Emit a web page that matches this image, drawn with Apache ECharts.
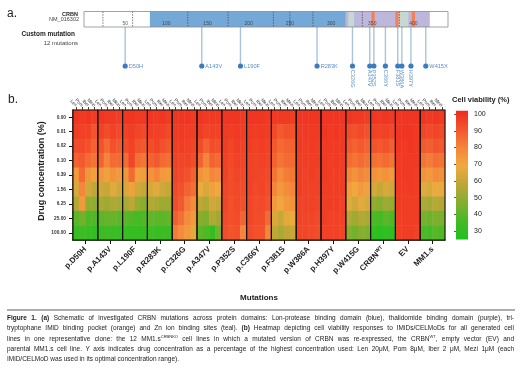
<!DOCTYPE html>
<html>
<head>
<meta charset="utf-8">
<script src="https://cdn.jsdelivr.net/npm/echarts@6/dist/echarts.min.js"></script>
<style>
html, body { margin: 0; padding: 0; background: #fff; }
#chart { width: 520px; height: 374px; }
</style>
</head>
<body>
<div id="chart"></div>
<script>
// ---- panel a: CRBN protein (residues) ----
var proteinLength = 442;
var domainStart = [0, 80, 318, 420];
var domainEnd = [80, 318, 420, 442];
var domainColor = ['#ffffff', '#74a8d6', '#bcb7db', '#ffffff'];
var zincSites = [[321, 328], [382, 394]];
var trpPocket = [[349, 353], [378, 382], [398, 402]];
var exonBreaks = [23, 59, 126, 175, 230, 250, 278, 338, 383];
var residueTicks = [50, 100, 150, 200, 250, 300, 350, 400];

var mutNames = ['D50H', 'A143V', 'L190F', 'R283K', 'C326G', 'A347V', 'P352S', 'C366Y', 'F381S', 'W386A', 'H397Y', 'W415X'];
var mutPos = [50, 143, 190, 283, 326, 347, 352, 366, 381, 386, 397, 415];
var mutVertical = [false, false, false, false, true, true, true, true, true, true, true, false];

// ---- panel b: heatmap ----
var concLabels = ['0.00', '0.01', '0.02', '0.10', '0.39', '1.56', '6.25', '25.00', '100.00'];
var drugs = ['Len', 'Pom', 'Iber', 'Mezi'];
var cellLines = ['p.D50H', 'p.A143V', 'p.L190F', 'p.R283K', 'p.C326G', 'p.A347V', 'p.P352S', 'p.C366Y',
  'p.F381S', 'p.W386A', 'p.H397Y', 'p.W415G', 'CRBN^WT', 'EV', 'MM1.s'];

// rows = concentration (top to bottom), columns = Len, Pom, Iber, Mezi
var D50H = [[99, 98, 99, 97], [97, 96, 96, 91], [93, 94, 92, 88], [88, 90, 86, 84], [74, 86, 75, 72], [64, 80, 62, 58], [56, 74, 50, 49], [40, 44, 38, 38], [32, 34, 32, 30]];
var A143V = [[99, 98, 98, 97], [96, 93, 96, 94], [92, 86, 92, 90], [88, 80, 86, 86], [75, 72, 76, 74], [62, 60, 66, 62], [54, 52, 55, 53], [40, 42, 42, 40], [33, 34, 33, 32]];
var L190F = [[99, 99, 98, 98], [96, 97, 95, 94], [93, 96, 91, 90], [86, 95, 85, 83], [75, 86, 72, 73], [64, 72, 62, 60], [53, 58, 50, 48], [40, 38, 36, 38], [33, 31, 32, 32]];
var R283K = [[99, 98, 99, 97], [97, 96, 96, 94], [93, 95, 92, 90], [88, 90, 86, 85], [76, 80, 74, 73], [63, 66, 62, 60], [55, 54, 52, 52], [41, 40, 40, 42], [34, 33, 34, 33]];
var C326G = [[99, 99, 99, 98], [98, 98, 97, 97], [97, 97, 96, 95], [96, 95, 95, 93], [95, 94, 92, 88], [94, 92, 88, 85], [93, 90, 82, 78], [89, 85, 78, 74], [82, 78, 74, 66]];
var A347V = [[99, 98, 98, 98], [97, 95, 96, 96], [93, 88, 93, 92], [88, 80, 88, 86], [76, 73, 80, 78], [68, 64, 72, 70], [58, 55, 62, 60], [48, 46, 56, 52], [40, 38, 30, 44]];
var P352S = [[99, 99, 99, 98], [98, 97, 98, 97], [97, 95, 97, 96], [96, 94, 96, 95], [96, 93, 95, 94], [95, 93, 94, 93], [95, 92, 94, 92], [94, 92, 93, 88], [93, 91, 92, 80]];
var C366Y = [[99, 99, 99, 98], [98, 97, 98, 97], [97, 96, 97, 96], [96, 95, 96, 95], [96, 95, 95, 94], [96, 94, 95, 93], [95, 93, 94, 92], [95, 93, 93, 86], [94, 92, 92, 80]];
var F381S = [[98, 98, 98, 97], [94, 90, 92, 92], [90, 86, 88, 88], [88, 84, 86, 86], [84, 78, 82, 83], [80, 74, 78, 80], [74, 70, 74, 76], [64, 60, 66, 68], [58, 54, 58, 60]];
var W386A = [[99, 99, 99, 99], [98, 98, 98, 98], [98, 97, 98, 97], [97, 97, 97, 97], [97, 96, 97, 96], [97, 96, 96, 96], [96, 96, 96, 95], [96, 95, 95, 94], [95, 95, 94, 93]];
var H397Y = [[99, 99, 99, 99], [99, 98, 99, 98], [98, 98, 98, 98], [98, 97, 98, 97], [98, 97, 97, 97], [97, 97, 97, 97], [97, 97, 97, 96], [97, 96, 96, 96], [96, 96, 96, 95]];
var W415G = [[99, 98, 98, 97], [93, 92, 94, 92], [90, 88, 90, 88], [86, 84, 86, 84], [79, 76, 80, 78], [73, 70, 74, 72], [66, 62, 66, 64], [56, 52, 56, 54], [48, 44, 48, 46]];
var CRBN_WT = [[99, 98, 99, 98], [96, 95, 96, 94], [91, 90, 92, 89], [85, 84, 86, 84], [76, 74, 76, 74], [63, 60, 64, 62], [50, 48, 52, 50], [38, 36, 40, 38], [31, 29, 31, 30]];
var EV = [[99, 99, 99, 99], [99, 99, 99, 98], [99, 98, 99, 98], [98, 98, 98, 98], [98, 98, 98, 97], [98, 97, 98, 97], [98, 97, 97, 97], [97, 97, 97, 97], [97, 97, 97, 96]];
var MM1s = [[99, 98, 99, 98], [95, 94, 95, 94], [90, 89, 91, 90], [84, 82, 85, 84], [76, 74, 78, 76], [66, 64, 68, 68], [55, 53, 57, 56], [45, 43, 46, 45], [38, 36, 39, 38]];

var viability = [D50H, A143V, L190F, R283K, C326G, A347V, P352S, C366Y, F381S, W386A, H397Y, W415G, CRBN_WT, EV, MM1s];
var legendTicks = [30, 40, 50, 60, 70, 80, 90, 100];
var heatColors = ['#1ec21e', '#45ba26', '#84ae2e', '#bea637', '#efaa3e', '#f4853a', '#f2552d', '#ef2a1e'];

var captionLines = [
  'Figure 1. (a) Schematic of investigated CRBN mutations across protein domains: Lon-protease binding domain (blue), thalidomide binding domain (purple), tri-',
  'tryptophane IMiD binding pocket (orange) and Zn ion binding sites (teal). (b) Heatmap depicting cell viability responses to IMiDs/CELMoDs for all generated cell',
  'lines in one representative clone: the 12 MM1.s^CRBNKO cell lines in which a mutated version of CRBN was re-expressed, the CRBN^WT^, empty vector (EV) and',
  'parental MM1.s cell line. Y axis indicates drug concentration as a percentage of the highest concentration used: Len 20\u03bcM, Pom 8\u03bcM, Iber 2 \u03bcM, Mezi 1\u03bcM (each',
  'IMiD/CELMoD was used in its optimal concentration range).'
];
var boldWords = ['Figure', '1.', '(a)', '(b)'];

var FONT = '"Liberation Sans", Arial, sans-serif';

// heatmap cells
var columnKeys = [];
var heatData = [];
viability.forEach(function (rows, g) {
  drugs.forEach(function (d, k) {
    columnKeys.push(cellLines[g] + '|' + d);
  });
  rows.forEach(function (vals, r) {
    vals.forEach(function (v, k) {
      heatData.push([g * 4 + k, r, v]);
    });
  });
});

// caption, justified like the figure
var ctx = document.createElement('canvas').getContext('2d');
function textW(s, size, bold) {
  ctx.font = (bold ? 'bold ' : '') + size + 'px ' + FONT;
  return ctx.measureText(s).width;
}
var capLeft = 7, capRight = 514, capTop = 318.6, capStep = 10.1, capSize = 6.5;
var captionEls = [];
captionLines.forEach(function (line, li) {
  var words = line.split(' ');
  var parts = words.map(function (w) {
    var bold = boldWords.indexOf(w) >= 0;
    var sp = w.split('^');
    var wb = textW(sp[0], capSize, bold);
    var ws = sp[1] ? textW(sp[1], capSize * 0.62, bold) : 0;
    var wr = sp[2] ? textW(sp[2], capSize, bold) : 0;
    return { base: sp[0], sup: sp[1], rest: sp[2], bold: bold, wb: wb, ws: ws, w: wb + ws + wr };
  });
  var total = parts.reduce(function (a, p) { return a + p.w; }, 0);
  var last = li === captionLines.length - 1;
  var gap = last ? textW(' ', capSize) : (capRight - capLeft - total) / (words.length - 1);
  var x = capLeft;
  var y = capTop + li * capStep;
  parts.forEach(function (p) {
    var st = { fontSize: capSize, fontWeight: p.bold ? 'bold' : 'normal', fontFamily: FONT, fill: '#222', verticalAlign: 'middle' };
    captionEls.push({ type: 'text', x: x, y: y, silent: true, style: Object.assign({ text: p.base }, st) });
    if (p.sup) {
      captionEls.push({ type: 'text', x: x + p.wb, y: y - 2.3, silent: true,
        style: Object.assign({}, st, { text: p.sup, fontSize: capSize * 0.62 }) });
    }
    if (p.rest) {
      captionEls.push({ type: 'text', x: x + p.wb + p.ws, y: y, silent: true, style: Object.assign({ text: p.rest }, st) });
    }
    x += p.w + gap;
  });
});

function label(text, x, y, size, opts) {
  return { type: 'text', x: x, y: y, silent: true,
    style: Object.assign({ text: text, fontSize: size, fontFamily: FONT, fill: '#222', verticalAlign: 'middle' }, opts || {}) };
}

var chart = echarts.init(document.getElementById('chart'));
var option = {
  animation: false,
  backgroundColor: '#fff',
  textStyle: { fontFamily: FONT },
  grid: [
    { left: 84, top: 11.5, width: 364, height: 15.5, containLabel: false, outerBoundsMode: 'none' },
    { left: 84, top: 27, width: 364, height: 39, containLabel: false, outerBoundsMode: 'none' },
    { left: 73, top: 110, width: 372, height: 130, containLabel: false, outerBoundsMode: 'none' },
    { left: 456, top: 110.7, width: 12, height: 128.7, containLabel: false, outerBoundsMode: 'none' }
  ],
  xAxis: [
    { gridIndex: 0, type: 'value', min: 0, max: proteinLength, show: false },
    { gridIndex: 1, type: 'value', min: 0, max: proteinLength, show: false },
    {
      gridIndex: 2, type: 'category', data: columnKeys, position: 'top',
      axisLine: { show: false },
      axisTick: { show: true, alignWithLabel: true, length: 3, lineStyle: { color: '#111', width: 0.8 } },
      axisLabel: { interval: 0, rotate: 45, fontSize: 4.5, color: '#333', margin: 4,
        formatter: function (v) { return v.split('|')[1]; } }
    },
    {
      gridIndex: 2, type: 'category', data: cellLines, position: 'bottom',
      axisLine: { show: true, lineStyle: { color: '#111', width: 1.5 } },
      axisTick: { show: true, alignWithLabel: true, length: 4, lineStyle: { color: '#111', width: 1 } },
      axisLabel: {
        interval: 0, rotate: 45, margin: 8, color: '#222',
        formatter: function (v) {
          var sp = v.split('^');
          return sp[1] ? '{b|' + sp[0] + '}{s|' + sp[1] + '}' : '{b|' + v + '}';
        },
        rich: {
          b: { fontSize: 8, fontWeight: 'bold', fontFamily: FONT, color: '#222' },
          s: { fontSize: 5, fontWeight: 'bold', fontFamily: FONT, color: '#222', padding: [0, 0, 4, 0] }
        }
      }
    },
    { gridIndex: 3, type: 'value', min: 0, max: 1, show: false }
  ],
  yAxis: [
    { gridIndex: 0, type: 'value', min: 0, max: 1, show: false },
    { gridIndex: 1, type: 'value', min: 0, max: 1, show: false },
    {
      gridIndex: 2, type: 'category', data: concLabels, inverse: true,
      axisLine: { show: true, lineStyle: { color: '#111', width: 1.5 } },
      axisTick: { show: true, alignWithLabel: true, length: 4, lineStyle: { color: '#111', width: 1 } },
      axisLabel: { fontSize: 4.8, fontWeight: 'bold', color: '#333', margin: 7 }
    },
    {
      gridIndex: 3, type: 'value', min: 25, max: 102, position: 'right',
      axisLine: { show: false }, splitLine: { show: false },
      axisTick: { show: true, inside: true, length: 2, customValues: legendTicks, lineStyle: { color: '#333', width: 0.8 } },
      axisLabel: { fontSize: 7, color: '#222', margin: 6, customValues: legendTicks }
    }
  ],
  visualMap: {
    show: false, type: 'continuous', min: 25, max: 102, seriesIndex: 6, dimension: 2,
    inRange: { color: heatColors }
  },
  series: [
    {
      type: 'custom', xAxisIndex: 0, yAxisIndex: 0, silent: true,
      data: domainStart.map(function (s, i) { return [s, domainEnd[i], i]; }),
      renderItem: function (params, api) {
        var p0 = api.coord([api.value(0), 1]);
        var p1 = api.coord([api.value(1), 0]);
        return { type: 'rect', shape: { x: p0[0], y: p0[1], width: p1[0] - p0[0], height: p1[1] - p0[1] },
          style: { fill: domainColor[api.value(2)] } };
      }
    },
    {
      type: 'custom', xAxisIndex: 0, yAxisIndex: 0, silent: true,
      data: zincSites.map(function (z) { return [z[0], z[1], 0]; })
        .concat(trpPocket.map(function (t) { return [t[0], t[1], 1]; })),
      renderItem: function (params, api) {
        var p0 = api.coord([api.value(0), 1]);
        var p1 = api.coord([api.value(1), 0]);
        return { type: 'rect', shape: { x: p0[0], y: p0[1], width: p1[0] - p0[0], height: p1[1] - p0[1] },
          style: { fill: api.value(2) ? '#f2805a' : '#c6d8d2' } };
      }
    },
    {
      type: 'custom', xAxisIndex: 0, yAxisIndex: 0, silent: true,
      data: exonBreaks.map(function (v) { return [v]; }),
      renderItem: function (params, api) {
        var p0 = api.coord([api.value(0), 1]);
        var p1 = api.coord([api.value(0), 0]);
        return { type: 'line', shape: { x1: p0[0], y1: p0[1], x2: p1[0], y2: p1[1] },
          style: { stroke: '#444', lineWidth: 0.7, lineDash: [1.5, 1.2] } };
      }
    },
    {
      type: 'custom', xAxisIndex: 0, yAxisIndex: 0, silent: true, z: 3,
      data: [[0, proteinLength]],
      renderItem: function (params, api) {
        var p0 = api.coord([api.value(0), 1]);
        var p1 = api.coord([api.value(1), 0]);
        return { type: 'rect', shape: { x: p0[0], y: p0[1], width: p1[0] - p0[0], height: p1[1] - p0[1] },
          style: { fill: 'none', stroke: '#8a8a8a', lineWidth: 0.8 } };
      }
    },
    {
      type: 'scatter', xAxisIndex: 0, yAxisIndex: 0, silent: true, symbolSize: 0, z: 4,
      data: residueTicks.map(function (v) { return [v, 0.25]; }),
      label: { show: true, position: 'inside', fontSize: 5, color: '#333',
        formatter: function (p) { return p.value[0]; } }
    },
    {
      type: 'custom', xAxisIndex: 1, yAxisIndex: 1, silent: true,
      data: mutPos.map(function (p, i) { return [p, i]; }),
      renderItem: function (params, api) {
        var i = api.value(1);
        var top = api.coord([api.value(0), 1]);
        var bot = api.coord([api.value(0), 0]);
        var txt = mutVertical[i]
          ? { type: 'text', x: bot[0], y: bot[1] + 3.8, rotation: -Math.PI / 2,
              style: { text: mutNames[i], align: 'left', verticalAlign: 'middle', fontSize: 5.6, fontFamily: FONT, fill: '#5b8fc9' } }
          : { type: 'text', x: bot[0] + 3.6, y: bot[1], 
              style: { text: mutNames[i], align: 'left', verticalAlign: 'middle', fontSize: 5.6, fontFamily: FONT, fill: '#5b8fc9' } };
        return { type: 'group', children: [
          { type: 'line', shape: { x1: top[0], y1: top[1], x2: bot[0], y2: bot[1] }, style: { stroke: '#a9c4dd', lineWidth: 1.4 } },
          { type: 'circle', shape: { cx: bot[0], cy: bot[1], r: 2.6 }, style: { fill: '#3b7cc0' } },
          txt
        ] };
      }
    },
    {
      type: 'heatmap', xAxisIndex: 2, yAxisIndex: 2, data: heatData, silent: true,
      itemStyle: { borderWidth: 0 }, emphasis: { disabled: true }
    },
    {
      type: 'custom', xAxisIndex: 3, yAxisIndex: 2, silent: true, z: 5,
      data: cellLines.map(function (c, i) { return [i, 0]; }),
      renderItem: function (params, api) {
        var c = api.coord([api.value(0), 0]);
        var w = api.size([1, 0])[0];
        var cs = params.coordSys;
        return { type: 'rect', shape: { x: c[0] - w / 2, y: cs.y, width: w, height: cs.height },
          style: { fill: 'none', stroke: '#111', lineWidth: 1.1 } };
      }
    }
  ],
  graphic: [
    label('a.', 7, 13.5, 12),
    label('CRBN', 78, 14.5, 5.5, { align: 'right', fontWeight: 'bold' }),
    label('NM_016302', 79, 19.8, 5.5, { align: 'right', fill: '#444' }),
    label('Custom mutation', 75, 34.7, 6.5, { align: 'right', fontWeight: 'bold' }),
    label('12 mutations', 78, 43.3, 6, { align: 'right', fill: '#444' }),
    label('b.', 8, 100, 12),
    { type: 'text', x: 42, y: 171, rotation: Math.PI / 2, silent: true,
      style: { text: 'Drug concentration (%)', fontSize: 9, fontWeight: 'bold', fontFamily: FONT, fill: '#222', align: 'center', verticalAlign: 'middle' } },
    label('Mutations', 259, 298, 8, { align: 'center', fontWeight: 'bold' }),
    label('Cell viability (%)', 452, 100, 7.5, { fontWeight: 'bold' }),
    { type: 'rect', x: 456, y: 110.7, silent: true, shape: { width: 12, height: 128.7 },
      style: { fill: new echarts.graphic.LinearGradient(0, 0, 0, 1, heatColors.slice().reverse().map(function (c, i) {
        return { offset: i / (heatColors.length - 1), color: c };
      })) } },
    { type: 'line', silent: true, shape: { x1: 7, y1: 310, x2: 515, y2: 310 }, style: { stroke: '#333', lineWidth: 0.8 } }
  ].concat(captionEls)
};
chart.setOption(option);
</script>
</body>
</html>
